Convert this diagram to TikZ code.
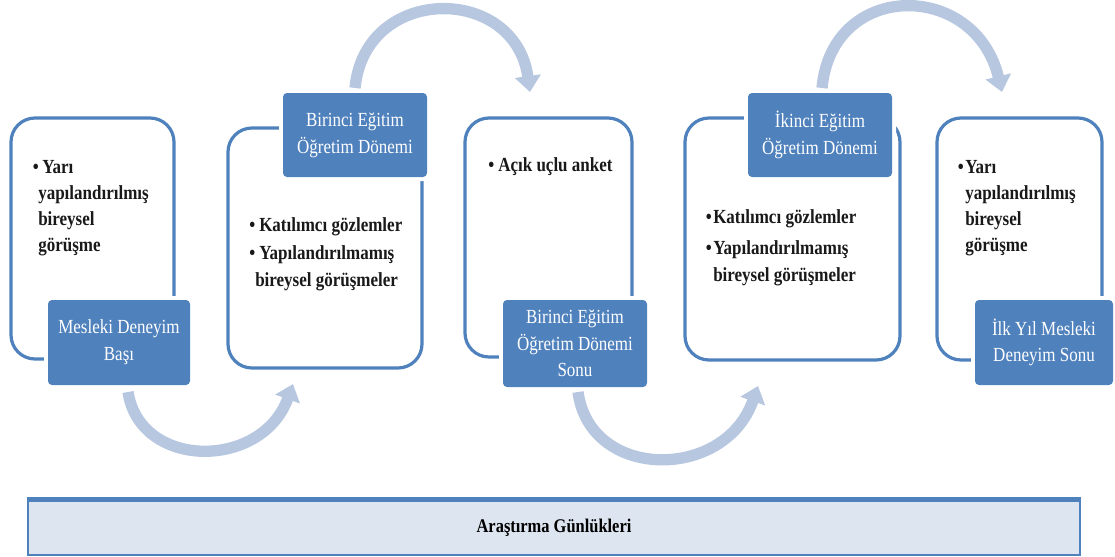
\documentclass[tikz,border=0pt]{standalone}
\usepackage{fontspec}
\setmainfont{Liberation Serif}[FakeStretch=0.85]
\usetikzlibrary{arrows.meta}
\definecolor{accent}{HTML}{4F81BD}
\definecolor{flowblue}{HTML}{B7C7E0}
\definecolor{barfill}{HTML}{DDE5F0}
\begin{document}
\begin{tikzpicture}[x=0.75pt,y=-0.75pt,
  card/.style={draw=accent, line width=2.4pt, rounded corners=18pt, fill=white, inner sep=0pt},
  tag/.style={fill=accent, rounded corners=3pt, text=white, inner sep=0pt, align=center,
    font=\fontsize{15}{20}\selectfont, preaction={draw=white, line width=6pt}},
  item/.style={anchor=base west, inner sep=0pt, text=black!90, font=\fontsize{15}{19}\selectfont\bfseries},
  flow/.style={draw=flowblue, line width=8.5pt, -{Triangle[width=19pt,length=12pt]}}]
\useasboundingbox (0,0) rectangle (1115,557);

% curved flow arrows between the stages
\coordinate (a1s) at (128,392); \coordinate (a1e) at (293,384);
\coordinate (a2s) at (355,88);  \coordinate (a2e) at (530,92);
\coordinate (a3s) at (578,392); \coordinate (a3e) at (758,386);
\coordinate (a4s) at (822,88);  \coordinate (a4e) at (1002,92);
\draw[flow] (a1s) .. controls (140,470) and (262,470) .. (a1e);
\draw[flow] (a2s) .. controls (365,-16) and (515,-16) .. (a2e);
\draw[flow] (a3s) .. controls (590,481) and (725,481) .. (a3e);
\draw[flow] (a4s) .. controls (832,-20) and (975,-20) .. (a4e);

% stage cards
\node[card, minimum width=122.25pt, minimum height=180.75pt] (card1) at (92.5,238.5) {};
\node[card, minimum width=145.5pt, minimum height=180pt] (card2) at (325,248) {};
\node[card, minimum width=125.25pt, minimum height=179.25pt] (card3) at (548.5,237.5) {};
\node[card, minimum width=161.25pt, minimum height=181.5pt] (card4) at (792.5,239) {};
\node[card, minimum width=123.75pt, minimum height=181.5pt] (card5) at (1019.5,239) {};

% stage titles
\node[tag, minimum width=106.5pt, minimum height=63.75pt] (tag1) at (119,342.5) {Mesleki Deneyim\\Başı};
\node[tag, minimum width=108pt, minimum height=63pt] (tag2) at (355,135) {Birinci Eğitim\\Öğretim Dönemi};
\node[tag, minimum width=108pt, minimum height=65.25pt] (tag3) at (575,343.5) {Birinci Eğitim\\Öğretim Dönemi\\Sonu};
\node[tag, minimum width=108pt, minimum height=63pt] (tag4) at (820,135) {İkinci Eğitim\\Öğretim Dönemi};
\node[tag, minimum width=103.5pt, minimum height=63.75pt] (tag5) at (1044,342.5) {İlk Yıl Mesleki\\Deneyim Sonu};

% data collection methods
\node[item] (m1a) at (42,173) {\llap{\textbullet\hspace{2.5pt}}Yarı};
\node[item] (m1b) at (38,199) {yapılandırılmış};
\node[item] (m1c) at (38,225) {bireysel};
\node[item] (m1d) at (38,251) {görüşme};

\node[item] (m2a) at (259,231) {\llap{\textbullet\hspace{3pt}}Katılımcı gözlemler};
\node[item] (m2b) at (259,259) {\llap{\textbullet\hspace{3pt}}Yapılandırılmamış};
\node[item] (m2c) at (255,286) {bireysel görüşmeler};

\node[item] (m3a) at (498,171) {\llap{\textbullet\hspace{3pt}}Açık uçlu anket};

\node[item] (m4a) at (713,223) {\llap{\textbullet\hspace{1pt}}Katılımcı gözlemler};
\node[item] (m4b) at (713,254) {\llap{\textbullet\hspace{1pt}}Yapılandırılmamış};
\node[item] (m4c) at (713,281) {bireysel görüşmeler};

\node[item] (m5a) at (965,173) {\llap{\textbullet\hspace{1pt}}Yarı};
\node[item] (m5b) at (965,199) {yapılandırılmış};
\node[item] (m5c) at (965,225) {bireysel};
\node[item] (m5d) at (965,251) {görüşme};

% research journal bar
\node[draw=accent, line width=2pt, fill=barfill, inner sep=0pt,
  minimum width=789pt, minimum height=40.5pt] (bar) at (554,528) {};
\draw[accent, line width=3.5pt] (bar.north west) -- (bar.north east);
\node[inner sep=0pt, font=\fontsize{14.5}{17}\selectfont\bfseries] (bartext) at (bar.center) {Araştırma Günlükleri};
\end{tikzpicture}
\end{document}
